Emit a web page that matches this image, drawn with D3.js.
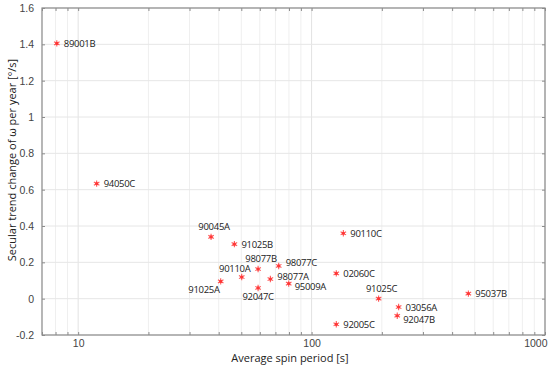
<!DOCTYPE html>
<html>
<head>
<meta charset="utf-8">
<script src="https://cdn.jsdelivr.net/npm/d3@7"></script>
<style>
  body { margin: 0; background: #fff; }
  svg { font-family: "Open Sans", "Liberation Sans", sans-serif; }
  .tick_label { font-size: 10.5px; fill: #444; }
  .pt_label { font-size: 9.5px; fill: #222; letter-spacing: -0.3px; }
  .ax_label { font-size: 11px; fill: #222; }
</style>
</head>
<body>
<div id="chart"></div>
<script>
// objects, average spin period [s], secular trend [deg/s per year]
var names   = ['89001B', '94050C', '90045A', '91025B', '98077B', '98077C', '90110A', '98077A', '95009A',
               '91025A', '92047C', '90110C', '02060C', '92005C', '91025C', '03056A', '92047B', '95037B'];
var periods = [8.1, 12.0, 37.1, 46.7, 59.0, 72.3, 50.2, 66.6, 79.8,
               40.8, 59.0, 136.8, 127.6, 127.6, 193.7, 236, 232.8, 469.6];
var trends  = [1.405, 0.633, 0.34, 0.30, 0.163, 0.18, 0.119, 0.108, 0.083,
               0.095, 0.059, 0.36, 0.139, -0.141, 0.0, -0.046, -0.094, 0.028];
// where each label sits relative to its point
var label_pos = ['r', 'r', 't', 'r', 't', 'rt', 'tl', 'rt', 'rs',
                 'bl', 'b', 'r', 'r', 'r', 't', 'r', 'rb', 'r'];
var y_ticks = [-0.2, 0, 0.2, 0.4, 0.6, 0.8, 1, 1.2, 1.4, 1.6];
var x_major = [10, 100, 1000];

var W = 550, H = 370;
var m = {left: 42, right: 5, top: 8, bottom: 35};
var svg = d3.select('#chart').append('svg').attr('width', W).attr('height', H);

var x = d3.scaleLog().domain([7, 1000]).range([m.left, W - m.right]);
var y = d3.scaleLinear().domain([-0.2, 1.6]).range([H - m.bottom, m.top]);

// minor + major positions for the log axis
var x_all = [];
[1, 10, 100].forEach(function (d) {
    for (var k = 1; k <= 10; k++) { var v = d * k; if (v >= 7 && v <= 1000) x_all.push(v); }
});
x_all = Array.from(new Set(x_all));

var grid = svg.append('g').attr('class', 'grid');
grid.selectAll('.vg').data(x_all).enter().append('line')
    .attr('x1', d => x(d)).attr('x2', d => x(d))
    .attr('y1', y(1.6)).attr('y2', y(-0.2))
    .attr('stroke', d => x_major.includes(d) ? '#e2e2e2' : '#efefef').attr('stroke-width', 1);
grid.selectAll('.hg').data(y_ticks).enter().append('line')
    .attr('x1', x(7)).attr('x2', x(1000))
    .attr('y1', d => y(d)).attr('y2', d => y(d))
    .attr('stroke', '#e6e6e6').attr('stroke-width', 1);

// box
svg.append('rect').attr('x', x(7)).attr('y', y(1.6))
    .attr('width', x(1000) - x(7)).attr('height', y(-0.2) - y(1.6))
    .attr('fill', 'none').attr('stroke', '#8c8c8c').attr('stroke-width', 1.2);

// axes with inward ticks
var ax_b = d3.axisBottom(x).tickValues(x_all).tickSizeInner(-3).tickSizeOuter(0)
    .tickFormat(d => x_major.includes(d) ? d : '');
var ax_t = d3.axisTop(x).tickValues(x_all).tickSizeInner(-3).tickSizeOuter(0).tickFormat('');
var ax_l = d3.axisLeft(y).tickValues(y_ticks).tickSizeInner(-3).tickSizeOuter(0).tickFormat(d => d);
var ax_r = d3.axisRight(y).tickValues(y_ticks).tickSizeInner(-3).tickSizeOuter(0).tickFormat('');

function style_axis(g) {
    g.select('.domain').remove();
    g.selectAll('line').attr('stroke', '#8c8c8c');
    g.selectAll('text').attr('class', 'tick_label').attr('fill', null);
}
var g_b = svg.append('g').attr('transform', 'translate(0,' + y(-0.2) + ')').call(ax_b).call(style_axis);
g_b.selectAll('text').attr('dy', '0.85em');
// last label is pulled inside the frame like the original
g_b.selectAll('text').filter(d => d === 1000).attr('text-anchor', 'end').attr('x', 2);
svg.append('g').attr('transform', 'translate(0,' + y(1.6) + ')').call(ax_t).call(style_axis);
svg.append('g').attr('transform', 'translate(' + x(7) + ',0)').call(ax_l).call(style_axis)
    .selectAll('text').attr('x', -8);
svg.append('g').attr('transform', 'translate(' + x(1000) + ',0)').call(ax_r).call(style_axis);

// points
var star = d3.symbol().type(d3.symbolAsterisk).size(28);
var pts = svg.append('g').attr('class', 'points');
names.forEach(function (n, i) {
    var px = x(periods[i]), py = y(trends[i]);
    pts.append('circle').attr('cx', px).attr('cy', py).attr('r', 1.6).attr('fill', '#ff2a2a');
    pts.append('path').attr('d', star()).attr('transform', 'translate(' + px + ',' + py + ')')
        .attr('stroke', '#ff3b3b').attr('stroke-width', 1.1).attr('fill', 'none').attr('opacity', 0.85);
    var t = pts.append('text').attr('class', 'pt_label').text(n);
    var p = label_pos[i];
    if (p === 'r') t.attr('x', px + 7).attr('y', py + 3.5);
    else if (p === 'rt') t.attr('x', px + 7).attr('y', py + 0.5);
    else if (p === 'rs') t.attr('x', px + 6).attr('y', py + 6);
    else if (p === 'rb') t.attr('x', px + 6).attr('y', py + 7.5);
    else if (p === 't') t.attr('x', px + 3).attr('y', py - 7).attr('text-anchor', 'middle');
    else if (p === 'tl') t.attr('x', px - 7).attr('y', py - 5).attr('text-anchor', 'middle');
    else if (p === 'bl') t.attr('x', px - 1).attr('y', py + 12).attr('text-anchor', 'end');
    else if (p === 'b') t.attr('x', px).attr('y', py + 12).attr('text-anchor', 'middle');
});

// axis titles
svg.append('text').attr('class', 'ax_label').attr('x', 290).attr('y', 362)
    .attr('text-anchor', 'middle').text('Average spin period [s]');
svg.append('text').attr('class', 'ax_label').attr('text-anchor', 'middle')
    .attr('transform', 'translate(16,160) rotate(-90)')
    .text('Secular trend change of ω per year [°/s]');
</script>
</body>
</html>
